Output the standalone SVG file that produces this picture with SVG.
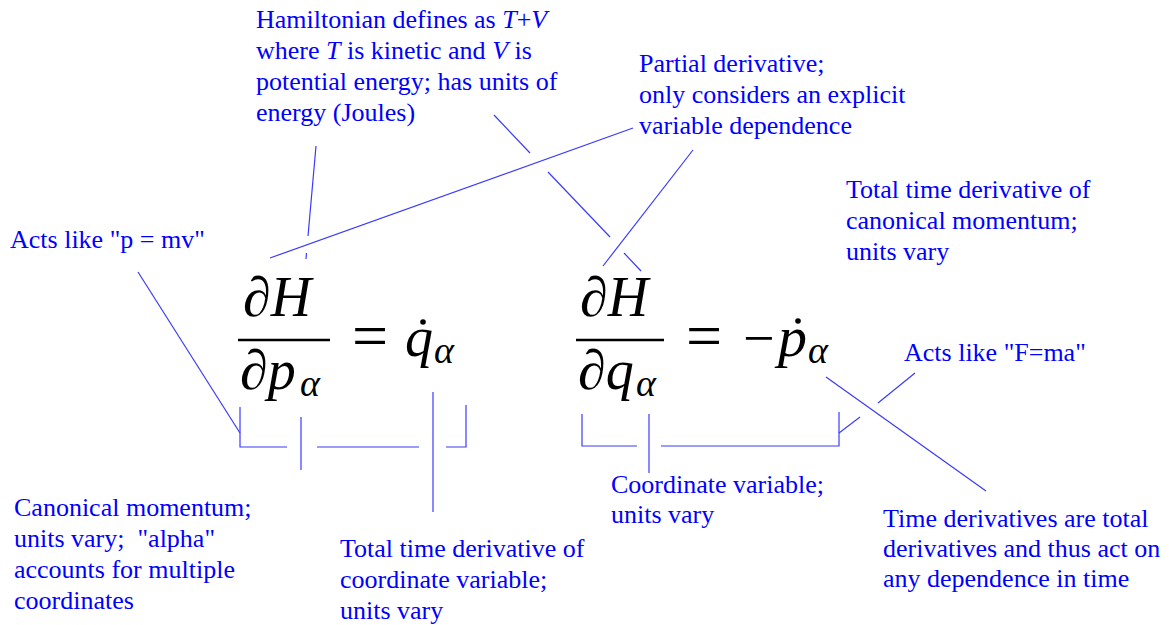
<svg xmlns="http://www.w3.org/2000/svg" width="1169" height="625" viewBox="0 0 1169 625">
<style>
.lbl{font-family:"Liberation Serif","Times New Roman",serif;font-size:26px;fill:#0000ff}
.it{font-style:italic}
.m{font-family:"Liberation Serif","Times New Roman",serif;fill:#000}
.mi{font-family:"Liberation Serif","Times New Roman",serif;font-style:italic;fill:#000}
.c{stroke:#3a3aff;stroke-width:1.2;fill:none}
.bar{stroke:#000;stroke-width:2.4}
</style>
<rect width="1169" height="625" fill="#fff"/>
<g id="eq1">
<text class="mi" x="243" y="316" font-size="56">∂H</text>
<line class="bar" x1="238" y1="340" x2="330" y2="340"/>
<text class="mi" x="240" y="389" font-size="56">∂p</text>
<text class="mi" x="300" y="396" font-size="38">α</text>
<text class="m" x="352" y="357" font-size="64">=</text>
<text class="mi" x="405" y="356" font-size="56">q</text>
<circle cx="423" cy="322" r="2.8" fill="#000"/>
<text class="mi" x="434" y="363" font-size="38">α</text>
</g>
<g id="eq2">
<text class="mi" x="580" y="316" font-size="56">∂H</text>
<line class="bar" x1="576" y1="340" x2="664" y2="340"/>
<text class="mi" x="578" y="389" font-size="56">∂q</text>
<text class="mi" x="636" y="396" font-size="38">α</text>
<text class="m" x="686" y="357" font-size="64">=</text>
<text class="m" x="743" y="357" font-size="56">−</text>
<text class="mi" x="778" y="356" font-size="58">p</text>
<circle cx="798" cy="321" r="2.8" fill="#000"/>
<text class="mi" x="808" y="363" font-size="38">α</text>
</g>
<g id="label-hamiltonian">
<text class="lbl" x="256" y="28">Hamiltonian defines as <tspan class="it">T</tspan>+<tspan class="it">V</tspan></text>
<text class="lbl" x="256" y="59">where <tspan class="it">T</tspan> is kinetic and <tspan class="it">V</tspan> is</text>
<text class="lbl" x="256" y="90">potential energy; has units of</text>
<text class="lbl" x="256" y="121">energy (Joules)</text>
</g>
<g id="label-partial">
<text class="lbl" x="639" y="72">Partial derivative;</text>
<text class="lbl" x="639" y="103">only considers an explicit</text>
<text class="lbl" x="639" y="134">variable dependence</text>
</g>
<g id="label-pdot">
<text class="lbl" x="846" y="198">Total time derivative of</text>
<text class="lbl" x="846" y="229">canonical momentum;</text>
<text class="lbl" x="846" y="260">units vary</text>
</g>
<g id="label-pmv">
<text class="lbl" x="10" y="248">Acts like "p = mv"</text>
</g>
<g id="label-fma">
<text class="lbl" x="904" y="361">Acts like "F=ma"</text>
</g>
<g id="label-momentum">
<text class="lbl" x="14" y="516">Canonical momentum;</text>
<text class="lbl" x="14" y="547" xml:space="preserve">units vary;  "alpha"</text>
<text class="lbl" x="14" y="578">accounts for multiple</text>
<text class="lbl" x="14" y="609">coordinates</text>
</g>
<g id="label-qdot">
<text class="lbl" x="340" y="557">Total time derivative of</text>
<text class="lbl" x="340" y="588">coordinate variable;</text>
<text class="lbl" x="340" y="619">units vary</text>
</g>
<g id="label-coord">
<text class="lbl" x="611" y="493">Coordinate variable;</text>
<text class="lbl" x="611" y="523">units vary</text>
</g>
<g id="label-time">
<text class="lbl" x="883" y="527">Time derivatives are total</text>
<text class="lbl" x="883" y="557">derivatives and thus act on</text>
<text class="lbl" x="883" y="587">any dependence in time</text>
</g>
<g id="connectors">
<polyline class="c" points="316,146 308,236"/>
<polyline class="c" points="306.5,253 306,259"/>
<polyline class="c" points="270,258 633,128"/>
<polyline class="c" points="494,115 530,153"/>
<polyline class="c" points="548,172 610,237"/>
<polyline class="c" points="624,253 641,271"/>
<polyline class="c" points="693,150 603,266"/>
<polyline class="c" points="138,272 240,433"/>
<polyline class="c" points="240,407 240,447 287,447"/>
<polyline class="c" points="301,417 301,470"/>
<polyline class="c" points="317,447 419,447"/>
<polyline class="c" points="433,392 433,512"/>
<polyline class="c" points="446,447 466,447 466,405"/>
<polyline class="c" points="582,414 582,446 637,446"/>
<polyline class="c" points="649,414 649,473"/>
<polyline class="c" points="661,446 839,446 839,412"/>
<polyline class="c" points="915,373 878,403"/>
<polyline class="c" points="860,417 839,433"/>
<polyline class="c" points="826,377 986,491"/>
</g>
</svg>
